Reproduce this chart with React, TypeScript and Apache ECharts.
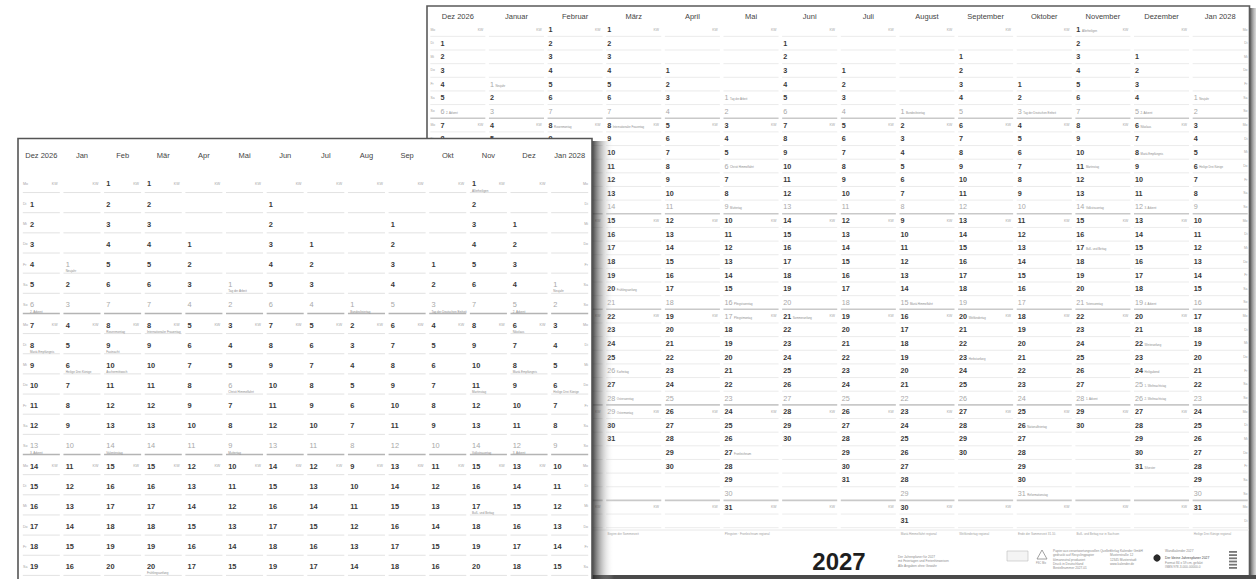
import React, { useEffect, useRef } from "react";
import * as echarts from "echarts";

const FONT = '"Liberation Sans", Arial, sans-serif';

// Column headers (back poster: long names, front poster: short names)
const monthsLong = ["Dez 2026", "Januar", "Februar", "März", "April", "Mai", "Juni", "Juli", "August", "September", "Oktober", "November", "Dezember", "Jan 2028"];
const monthsShort = ["Dez 2026", "Jan", "Feb", "Mär", "Apr", "Mai", "Jun", "Jul", "Aug", "Sep", "Okt", "Nov", "Dez", "Jan 2028"];
// Row (weekday slot, Monday = 0) of the first day of each month, and month lengths
const monthFirstRow = [1, 4, 0, 0, 3, 5, 1, 3, 6, 2, 4, 0, 2, 5];
const monthLength = [31, 31, 28, 31, 30, 31, 30, 31, 31, 30, 31, 30, 31, 31];
const weekdays = ["Mo", "Di", "Mi", "Do", "Fr", "Sa", "So"];
const rowCount = 37;
const frontVisibleRows = 20; // the front poster is cut off by the picture's lower edge

// Special days: column, day, name, greyed (public holiday)
const holidayCol = [0, 0, 0, 0, 0, 0, 0, 0, 1, 1, 2, 2, 2, 2, 3, 3, 3, 3, 3, 5, 5, 5, 5, 5, 5, 6, 8, 8, 9, 9, 10, 10, 10, 11, 11, 11, 11, 11, 11, 12, 12, 12, 12, 12, 12, 12, 12, 12, 12, 13, 13];
const holidayDay = [6, 8, 13, 20, 24, 25, 26, 31, 1, 6, 8, 9, 10, 14, 8, 20, 26, 28, 29, 1, 6, 9, 16, 17, 27, 21, 1, 15, 20, 23, 3, 26, 31, 1, 11, 14, 17, 21, 28, 5, 6, 8, 12, 19, 22, 24, 25, 26, 31, 1, 6];
const holidayName = [
  "2. Advent", "Mariä Empfängnis", "3. Advent", "4. Advent", "Heiligabend", "1. Weihnachtstag", "2. Weihnachtstag", "Silvester",
  "Neujahr", "Heilige Drei Könige",
  "Rosenmontag", "Fastnacht", "Aschermittwoch", "Valentinstag",
  "Internationaler Frauentag", "Frühlingsanfang", "Karfreitag", "Ostersonntag", "Ostermontag",
  "Tag der Arbeit", "Christi Himmelfahrt", "Muttertag", "Pfingstsonntag", "Pfingstmontag", "Fronleichnam",
  "Sommeranfang",
  "Bundesfeiertag", "Mariä Himmelfahrt",
  "Weltkindertag", "Herbstanfang",
  "Tag der Deutschen Einheit", "Nationalfeiertag", "Reformationstag",
  "Allerheiligen", "Martinstag", "Volkstrauertag", "Buß- und Bettag", "Totensonntag", "1. Advent",
  "2. Advent", "Nikolaus", "Mariä Empfängnis", "3. Advent", "4. Advent", "Winteranfang", "Heiligabend", "1. Weihnachtstag", "2. Weihnachtstag", "Silvester",
  "Neujahr", "Heilige Drei Könige",
];
const holidayOff = [1, 0, 1, 1, 0, 1, 1, 0, 1, 0, 0, 0, 0, 1, 0, 0, 1, 1, 1, 1, 1, 1, 1, 1, 0, 0, 1, 1, 0, 0, 1, 0, 0, 0, 0, 1, 0, 1, 1, 1, 0, 0, 1, 1, 0, 0, 1, 1, 0, 1, 0];

// Footer notes under the back poster grid
const footNoteCol = [0, 3, 5, 8, 9, 10, 11, 13];
const footNoteText = [
  "Winteranfang 21.12.",
  "Beginn der Sommerzeit",
  "Pfingsten · Fronleichnam regional",
  "Mariä Himmelfahrt regional",
  "Weltkindertag regional",
  "Ende der Sommerzeit 31.10.",
  "Buß- und Bettag nur in Sachsen",
  "Heilige Drei Könige regional",
];

const rowLabels = Array.from({ length: rowCount }, (_, r) => weekdays[r % 7]);

type Day = [number, number, number, number, string];
const dayData: Day[] = [];
monthLength.forEach((len, c) => {
  for (let d = 1; d <= len; d++) {
    const row = monthFirstRow[c] + d - 1;
    let name = "";
    let off = row % 7 === 6 ? 1 : 0;
    for (let k = 0; k < holidayCol.length; k++) {
      if (holidayCol[k] === c && holidayDay[k] === d) {
        name = holidayName[k];
        if (holidayOff[k]) off = 1;
      }
    }
    dayData.push([c, row, d, off, name]);
  }
});
const frontDayData = dayData.filter((d) => d[1] < frontVisibleRows);

const cellData: number[][] = [];
for (let c = 0; c < monthsLong.length; c++) {
  for (let r = 0; r < rowCount; r++) cellData.push([c, r]);
}
const frontCellData = cellData.filter((d) => d[1] < frontVisibleRows);

function cellRender(cfg: any) {
  return (params: any, api: any) => {
    const c = api.value(0);
    const r = api.value(1);
    const p = api.coord([c, r]);
    const s = api.size([1, 1]);
    const x0 = p[0] - s[0] / 2;
    const x1 = p[0] + s[0] / 2;
    const yb = p[1] + s[1] / 2 - cfg.lineLift;
    const sep = r % 7 === 6;
    const children: any[] = [
      {
        type: "line",
        shape: { x1: x0 + 1.8, y1: yb, x2: x1 - 1.8, y2: yb },
        style: { stroke: sep ? cfg.sepColor : cfg.lineColor, lineWidth: sep ? cfg.sepWidth : cfg.lineWidth },
      },
    ];
    const tiny = { fontSize: cfg.tiny, fontFamily: FONT, fill: "#a4a4a4", verticalAlign: "middle" };
    if (c === 0) {
      children.push({ type: "text", x: x0 + 2, y: p[1], style: { ...tiny, text: weekdays[r % 7], align: "left" } });
    }
    if (c === monthsLong.length - 1) {
      children.push({ type: "text", x: x1 - 2, y: p[1], style: { ...tiny, text: weekdays[r % 7], align: "right" } });
    }
    if (r % 7 === 0 && c < monthsLong.length - 1) {
      children.push({ type: "text", x: x1 - 4, y: p[1], style: { ...tiny, text: "KW", align: "right" } });
    }
    return { type: "group", children };
  };
}

function dayRender(source: Day[], cfg: any) {
  return (params: any, api: any) => {
    const item = source[params.dataIndex];
    const c = item[0];
    const p = api.coord([c, item[1]]);
    const s = api.size([1, 1]);
    const x0 = p[0] - s[0] / 2;
    const xt = x0 + (c === 0 ? cfg.offset0 : cfg.offset);
    const off = item[3] === 1;
    const children: any[] = [
      {
        type: "text",
        x: xt,
        y: p[1],
        style: {
          text: String(item[2]),
          fontSize: cfg.fs,
          fontWeight: off ? "normal" : "bold",
          fontFamily: FONT,
          fill: off ? "#a8a8a8" : "#383838",
          align: "left",
          verticalAlign: "middle",
        },
      },
    ];
    if (item[4]) {
      const right = cfg.nameRight;
      children.push({
        type: "text",
        x: right ? xt + String(item[2]).length * cfg.fs * 0.56 + 1.5 : xt,
        y: right ? p[1] + 1 : p[1] + cfg.nameDy,
        style: {
          text: item[4],
          fontSize: cfg.nameFs,
          fontFamily: FONT,
          fill: "#8c8c8c",
          align: "left",
          verticalAlign: "middle",
        },
      });
    }
    return { type: "group", children };
  };
}

const tinyLines = (x: number, y: number, lines: string[], z: number, fs = 3.2, fill = "#8a8a8a") =>
  lines.map((t, i) => ({
    type: "text",
    z,
    x,
    y: y + i * (fs + 1),
    style: { text: t, fontSize: fs, fontFamily: FONT, fill, align: "left", verticalAlign: "middle" },
  }));

export default function App() {
  const ref = useRef<HTMLDivElement>(null);

  useEffect(() => {
    const chart = echarts.init(ref.current as HTMLDivElement, null, { renderer: "svg" });

    const backGrid = { left: 428.5, top: 22.7, width: 821, height: 505, outerBoundsMode: "none" };
    const frontGrid = { left: 21, top: 173.9, width: 569, height: 20.15 * frontVisibleRows, outerBoundsMode: "none" };

    const footNotes = footNoteCol.map((c, i) => ({
      type: "text",
      z: 2,
      x: backGrid.left + c * (backGrid.width / 14) + 3,
      y: 533.5,
      style: { text: footNoteText[i], fontSize: 3, fontFamily: FONT, fill: "#a0a0a0", align: "left", verticalAlign: "middle" },
    }));

    const option: any = {
      animation: false,
      backgroundColor: "#ffffff",
      grid: [backGrid, frontGrid],
      xAxis: [
        {
          gridIndex: 0,
          type: "category",
          data: monthsLong,
          position: "top",
          z: 3,
          axisLine: { show: false },
          axisTick: { show: false },
          splitLine: { show: false },
          axisLabel: { interval: 0, margin: 2.5, fontSize: 7.5, color: "#444", fontFamily: FONT },
        },
        {
          gridIndex: 1,
          type: "category",
          data: monthsShort,
          position: "top",
          z: 22,
          axisLine: { show: false },
          axisTick: { show: false },
          splitLine: { show: false },
          axisLabel: { interval: 0, margin: 14, fontSize: 7.5, color: "#444", fontFamily: FONT },
        },
      ],
      yAxis: [
        { gridIndex: 0, type: "category", data: rowLabels, inverse: true, show: false },
        { gridIndex: 1, type: "category", data: rowLabels.slice(0, frontVisibleRows), inverse: true, show: false },
      ],
      series: [
        {
          type: "custom",
          name: "backCells",
          xAxisIndex: 0,
          yAxisIndex: 0,
          z: 3,
          silent: true,
          data: cellData,
          encode: { x: 0, y: 1 },
          renderItem: cellRender({ lineColor: "#e6e6e6", lineWidth: 0.8, sepColor: "#c9c9c9", sepWidth: 1.6, tiny: 3.4, lineLift: 0 }),
        },
        {
          type: "custom",
          name: "backDays",
          xAxisIndex: 0,
          yAxisIndex: 0,
          z: 4,
          silent: true,
          data: dayData.map((d) => [d[0], d[1], d[2], d[3]]),
          encode: { x: 0, y: 1 },
          renderItem: dayRender(dayData, { fs: 7.2, offset0: 12, offset: 2.8, nameRight: true, nameFs: 2.8, nameDy: 0 }),
        },
        {
          type: "custom",
          name: "frontCells",
          xAxisIndex: 1,
          yAxisIndex: 1,
          z: 22,
          silent: true,
          data: frontCellData,
          encode: { x: 0, y: 1 },
          renderItem: cellRender({ lineColor: "#e2e2e2", lineWidth: 1, sepColor: "#b4b4b4", sepWidth: 1.5, tiny: 3.6, lineLift: 1.5 }),
        },
        {
          type: "custom",
          name: "frontDays",
          xAxisIndex: 1,
          yAxisIndex: 1,
          z: 23,
          silent: true,
          data: frontDayData.map((d) => [d[0], d[1], d[2], d[3]]),
          encode: { x: 0, y: 1 },
          renderItem: dayRender(frontDayData, { fs: 7.4, offset0: 9, offset: 4, nameRight: false, nameFs: 3, nameDy: 6.3 }),
        },
      ],
      graphic: {
        elements: [
          // back poster paper + shadow
          {
            type: "rect",
            z: 0,
            shape: { x: 1249, y: 8, width: 7, height: 575 },
            style: {
              fill: new echarts.graphic.LinearGradient(0, 0, 1, 0, [
                { offset: 0, color: "rgba(40,40,40,0.9)" },
                { offset: 1, color: "rgba(150,150,150,0.35)" },
              ]),
            },
          },
          {
            type: "rect",
            z: 1,
            shape: { x: 427, y: 6, width: 822.5, height: 570 },
            style: { fill: "#ffffff", stroke: "#5a5a5a", lineWidth: 1.6 },
          },
          {
            type: "rect",
            z: 1,
            shape: { x: 427, y: 575, width: 829, height: 4 },
            style: { fill: "#4a4a4a" },
          },
          {
            type: "line",
            z: 2,
            shape: { x1: 428.5, y1: 530, x2: 1249, y2: 530 },
            style: { stroke: "#e2e2e2", lineWidth: 0.8 },
          },
          ...footNotes,
          {
            type: "text",
            z: 2,
            x: 839,
            y: 561,
            style: { text: "2027", fontSize: 24, fontWeight: "bold", fontFamily: FONT, fill: "#1e1e1e", align: "center", verticalAlign: "middle" },
          },
          ...tinyLines(898, 557, ["Der Jahresplaner für 2027", "mit Feiertagen und Ferienhinweisen", "Alle Angaben ohne Gewähr"], 2),
          {
            type: "rect",
            z: 2,
            shape: { x: 1007, y: 551, width: 21, height: 10 },
            style: { fill: "#f4f4f4", stroke: "#bdbdbd", lineWidth: 0.6 },
          },
          {
            type: "polygon",
            z: 2,
            shape: { points: [[1042, 550], [1047, 559], [1037, 559]] },
            style: { fill: "#ffffff", stroke: "#8a8a8a", lineWidth: 0.8 },
          },
          ...tinyLines(1036, 563, ["FSC Mix"], 2, 2.6),
          ...tinyLines(1053, 551, ["Papier aus verantwortungsvollen Quellen", "gedruckt auf Recyclingpapier", "klimaneutral produziert", "Druck in Deutschland", "Bestellnummer 2027-01"], 2),
          ...tinyLines(1110, 551, ["Verlag Kalender GmbH", "Musterstraße 12", "12345 Musterstadt", "www.kalender.de"], 2),
          {
            type: "circle",
            z: 2,
            shape: { cx: 1157, cy: 558, r: 3.6 },
            style: { fill: "#2a2a2a" },
          },
          ...tinyLines(1165, 551, ["Wandkalender 2027"], 2),
          ...tinyLines(1165, 558, ["Der kleine Jahresplaner 2027"], 2, 3.4, "#444"),
          ...tinyLines(1165, 563, ["Format 84 x 59 cm, gefalzt", "ISBN 978-3-000-00000-0"], 2),
          ...[0, 1, 2, 3, 4, 5].map((i) => ({
            type: "rect",
            z: 2,
            shape: { x: 1229, y: 551 + i * 3.2, width: 8, height: 1.8 },
            style: { fill: "#777" },
          })),
          // front poster shadow + paper
          {
            type: "rect",
            z: 19,
            shape: { x: 591, y: 141, width: 23, height: 440 },
            style: {
              fill: new echarts.graphic.LinearGradient(0, 0, 1, 0, [
                { offset: 0, color: "rgba(25,25,25,0.9)" },
                { offset: 0.35, color: "rgba(80,80,80,0.5)" },
                { offset: 1, color: "rgba(255,255,255,0)" },
              ]),
            },
          },
          {
            type: "rect",
            z: 20,
            shape: { x: 18, y: 138.5, width: 574, height: 460 },
            style: { fill: "#ffffff", stroke: "#555555", lineWidth: 1.6 },
          },
        ],
      },
    };

    chart.setOption(option);
    return () => chart.dispose();
  }, []);

  return <div ref={ref} style={{ position: "absolute", left: 0, top: 0, width: 1256, height: 579 }} />;
}
